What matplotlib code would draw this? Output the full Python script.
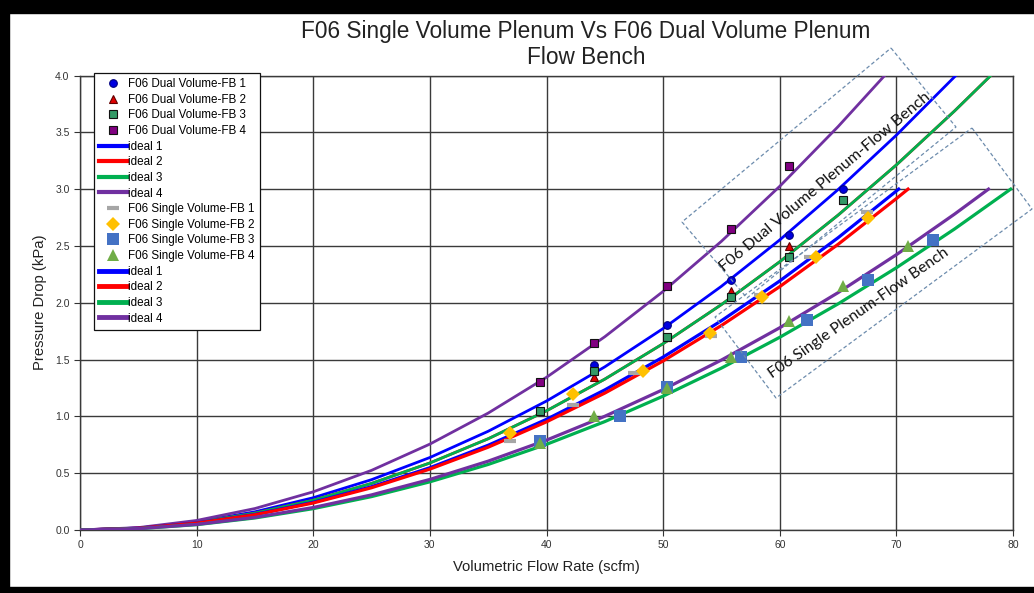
import matplotlib
matplotlib.use("Agg")
import matplotlib.pyplot as plt
from matplotlib.patches import Polygon, Rectangle

# ---------------- data ----------------
dual_fb1_x = [39.4, 44.1, 50.3, 55.8, 60.8, 65.4]
dual_fb1_y = [1.05, 1.45, 1.80, 2.20, 2.60, 3.00]
dual_fb2_x = [39.4, 44.1, 50.3, 55.8, 60.8, 65.4]
dual_fb2_y = [1.05, 1.35, 1.70, 2.10, 2.50, 2.90]
dual_fb3_x = [39.4, 44.1, 50.3, 55.8, 60.8, 65.4]
dual_fb3_y = [1.05, 1.40, 1.70, 2.05, 2.40, 2.90]
dual_fb4_x = [39.4, 44.1, 50.3, 55.8, 60.8]
dual_fb4_y = [1.30, 1.65, 2.15, 2.65, 3.20]

single_fb1_x = [36.9, 42.3, 47.5, 54.1, 58.3, 62.6, 67.5]
single_fb1_y = [0.78, 1.10, 1.38, 1.71, 2.07, 2.40, 2.80]
single_fb2_x = [36.9, 42.3, 48.3, 54.0, 58.5, 63.1, 67.6]
single_fb2_y = [0.85, 1.20, 1.40, 1.73, 2.05, 2.40, 2.75]
single_fb3_x = [39.4, 46.3, 50.3, 56.7, 62.3, 67.6, 73.1]
single_fb3_y = [0.78, 1.00, 1.26, 1.52, 1.85, 2.20, 2.55]
single_fb4_x = [39.4, 44.1, 50.3, 55.8, 60.8, 65.4, 71.0]
single_fb4_y = [0.77, 1.00, 1.25, 1.52, 1.84, 2.15, 2.50]

# ideal curves
dual_ideal1_x = [0, 5, 10, 15, 20, 25, 30, 35, 40, 45, 50, 55, 60, 65, 70, 75.1]
dual_ideal1_y = [0, 0.018, 0.071, 0.160, 0.284, 0.443, 0.638, 0.869, 1.135, 1.436, 1.773, 2.145, 2.553, 2.996, 3.475, 4.0]
dual_ideal2_x = [0, 5, 10, 15, 20, 25, 30, 35, 40, 45, 50, 55, 60, 65, 70, 75, 78.1]
dual_ideal2_y = [0, 0.016, 0.066, 0.148, 0.262, 0.410, 0.590, 0.803, 1.049, 1.328, 1.640, 1.984, 2.361, 2.771, 3.213, 3.689, 4.0]
dual_ideal3_x = [0, 5, 10, 15, 20, 25, 30, 35, 40, 45, 50, 55, 60, 65, 70, 75, 78.1]
dual_ideal3_y = [0, 0.016, 0.066, 0.148, 0.262, 0.410, 0.590, 0.803, 1.049, 1.328, 1.640, 1.984, 2.361, 2.771, 3.213, 3.689, 4.0]
dual_ideal4_x = [0, 5, 10, 15, 20, 25, 30, 35, 40, 45, 50, 55, 60, 65, 69.0]
dual_ideal4_y = [0, 0.021, 0.084, 0.189, 0.336, 0.525, 0.756, 1.029, 1.344, 1.701, 2.100, 2.541, 3.025, 3.550, 4.0]

single_ideal1_x = [0, 5, 10, 15, 20, 25, 30, 35, 40, 45, 50, 55, 60, 65, 70.2]
single_ideal1_y = [0, 0.015, 0.061, 0.137, 0.244, 0.381, 0.548, 0.746, 0.974, 1.233, 1.522, 1.842, 2.192, 2.572, 3.0]
single_ideal2_x = [0, 5, 10, 15, 20, 25, 30, 35, 40, 45, 50, 55, 60, 65, 70, 71.0]
single_ideal2_y = [0, 0.015, 0.060, 0.134, 0.238, 0.372, 0.536, 0.729, 0.952, 1.205, 1.488, 1.800, 2.142, 2.514, 2.917, 3.0]
single_ideal3_x = [0, 5, 10, 15, 20, 25, 30, 35, 40, 45, 50, 55, 60, 65, 70, 75, 79.8]
single_ideal3_y = [0, 0.012, 0.047, 0.106, 0.188, 0.294, 0.424, 0.577, 0.754, 0.954, 1.178, 1.425, 1.696, 1.990, 2.308, 2.650, 3.0]
single_ideal4_x = [0, 5, 10, 15, 20, 25, 30, 35, 40, 45, 50, 55, 60, 65, 70, 75, 77.9]
single_ideal4_y = [0, 0.012, 0.049, 0.111, 0.198, 0.309, 0.445, 0.606, 0.791, 1.001, 1.236, 1.496, 1.780, 2.089, 2.423, 2.781, 3.0]

x_ticks = [0, 10, 20, 30, 40, 50, 60, 70, 80]
y_ticks = [0.0, 0.5, 1.0, 1.5, 2.0, 2.5, 3.0, 3.5, 4.0]

title_text = "F06 Single Volume Plenum Vs F06 Dual Volume Plenum\nFlow Bench"
x_label = "Volumetric Flow Rate (scfm)"
y_label = "Pressure Drop (kPa)"
dual_note = "F06 Dual Volume Plenum-Flow Bench"
single_note = "F06 Single Plenum-Flow Bench"

# ---------------- figure ----------------
W, H = 1034, 593
plt.rcParams['font.family'] = ['Liberation Sans', 'DejaVu Sans']
fig = plt.figure(figsize=(W / 100, H / 100), dpi=100)
fig.patch.set_facecolor('white')

ax = fig.add_axes([80 / W, 1 - 530 / H, (1013 - 80) / W, (530 - 75.5) / H])
ax.set_xlim(0, 80)
ax.set_ylim(0, 4.0)
ax.set_xticks(x_ticks)
ax.set_yticks(y_ticks)
ax.set_xticklabels([str(v) for v in x_ticks])
ax.set_yticklabels([f"{v:.1f}" for v in y_ticks])
ax.tick_params(axis='both', labelsize=7.5, colors='#333333', length=4, width=0.8, direction='out')
ax.grid(True, color='#3a3a3a', linewidth=1.0)
ax.set_axisbelow(True)
for sp in ax.spines.values():
    sp.set_color('#3a3a3a')
    sp.set_linewidth(1.0)

BLUE, RED, GREEN, PURPLE = '#0000FF', '#FF0000', '#00B050', '#7030A0'

# dual markers
h1, = ax.plot(dual_fb1_x, dual_fb1_y, ls='none', marker='o', ms=5.5, mfc='#0000E0', mec='#000080', mew=0.8, zorder=5, label='F06 Dual Volume-FB 1')
h2, = ax.plot(dual_fb2_x, dual_fb2_y, ls='none', marker='^', ms=5.5, mfc='#E00000', mec='#600000', mew=0.8, zorder=5, label='F06 Dual Volume-FB 2')
h3, = ax.plot(dual_fb3_x, dual_fb3_y, ls='none', marker='s', ms=5.5, mfc='#339966', mec='#111111', mew=0.8, zorder=5, label='F06 Dual Volume-FB 3')
h4, = ax.plot(dual_fb4_x, dual_fb4_y, ls='none', marker='s', ms=5.5, mfc='#800080', mec='#111111', mew=0.8, zorder=5, label='F06 Dual Volume-FB 4')
# dual ideals
l1, = ax.plot(dual_ideal1_x, dual_ideal1_y, color=BLUE, lw=2.0, zorder=3, label='ideal 1')
l2, = ax.plot(dual_ideal2_x, dual_ideal2_y, color=RED, lw=2.0, zorder=3, label='ideal 2')
l3, = ax.plot(dual_ideal3_x, dual_ideal3_y, color=GREEN, lw=2.0, zorder=3, label='ideal 3')
l4, = ax.plot(dual_ideal4_x, dual_ideal4_y, color=PURPLE, lw=2.0, zorder=3, label='ideal 4')
# single markers
s1, = ax.plot(single_fb1_x, single_fb1_y, ls='none', marker='_', ms=8, mec='#A6A6A6', mew=3, zorder=5, label='F06 Single Volume-FB 1')
s2, = ax.plot(single_fb2_x, single_fb2_y, ls='none', marker='D', ms=7, mfc='#FFC000', mec='#FFC000', mew=0, zorder=5, label='F06 Single Volume-FB 2')
s3, = ax.plot(single_fb3_x, single_fb3_y, ls='none', marker='s', ms=8.5, mfc='#4472C4', mec='#4472C4', mew=0, zorder=5, label='F06 Single Volume-FB 3')
s4, = ax.plot(single_fb4_x, single_fb4_y, ls='none', marker='^', ms=9, mfc='#70AD47', mec='#70AD47', mew=0, zorder=5, label='F06 Single Volume-FB 4')
# single ideals
m1, = ax.plot(single_ideal1_x, single_ideal1_y, color=BLUE, lw=2.3, zorder=3, label='ideal 1')
m2, = ax.plot(single_ideal2_x, single_ideal2_y, color=RED, lw=2.3, zorder=3, label='ideal 2')
m3, = ax.plot(single_ideal3_x, single_ideal3_y, color=GREEN, lw=2.3, zorder=3, label='ideal 3')
m4, = ax.plot(single_ideal4_x, single_ideal4_y, color=PURPLE, lw=2.3, zorder=3, label='ideal 4')

handles = [h1, h2, h3, h4, l1, l2, l3, l4, s1, s2, s3, s4, m1, m2, m3, m4]
leg = ax.legend(handles=handles, loc='upper left', bbox_to_anchor=((94 - 80) / 933, (530 - 73) / 454.5),
                fontsize=8.4, frameon=True, fancybox=False, framealpha=1, edgecolor='#111111',
                handlelength=2.4, handletextpad=0.1, labelspacing=0.31, borderpad=0.45,
                borderaxespad=0)
leg.get_frame().set_linewidth(0.9)
leg.set_zorder(10)
for i, ln in enumerate(leg.get_lines()):
    if i in (4, 5, 6, 7):
        ln.set_linewidth(3.0)
    elif i in (12, 13, 14, 15):
        ln.set_linewidth(3.5)

ax.set_xlabel(x_label, fontsize=10.7, color='#222222', labelpad=7)
ax.set_ylabel(y_label, fontsize=10.7, color='#222222', labelpad=6)

fig.text(586 / W, 1 - 44.5 / H, title_text, ha='center', va='center', fontsize=16.3,
         color='#222222', linespacing=1.2)

# annotation boxes (pixel coordinates of the image, top-left origin)
def fig_pts(pts):
    return [(x / W, 1 - y / H) for x, y in pts]

box_dual = [(891, 48), (956, 127), (747, 298), (682, 222)]
box_single = [(972, 128), (1032, 209), (776, 398), (715, 317)]
for pts in (box_dual, box_single):
    fig.add_artist(Polygon(fig_pts(pts), closed=True, fill=False, edgecolor='#6D8CAD',
                           lw=0.9, ls=(0, (3, 2)), transform=fig.transFigure, zorder=20))

fig.text(825 / W, 1 - 182 / H, dual_note, rotation=40, rotation_mode='anchor',
         ha='center', va='center', fontsize=11.6, family=['Lato', 'DejaVu Sans'], color='#111111', zorder=21)
fig.text(859 / W, 1 - 313 / H, single_note, rotation=35, rotation_mode='anchor',
         ha='center', va='center', fontsize=11.3, family=['Lato', 'DejaVu Sans'], color='#111111', zorder=21)

# black border bands
fig.add_artist(Rectangle((0, 1 - 13 / H), 1, 13 / H, transform=fig.transFigure, color='black', zorder=30))
fig.add_artist(Rectangle((0, 0), 9 / W, 1, transform=fig.transFigure, color='black', zorder=30))
fig.add_artist(Rectangle((0, 0), 1, 6 / H, transform=fig.transFigure, color='black', zorder=30))

fig.savefig('out.png', dpi=100)
